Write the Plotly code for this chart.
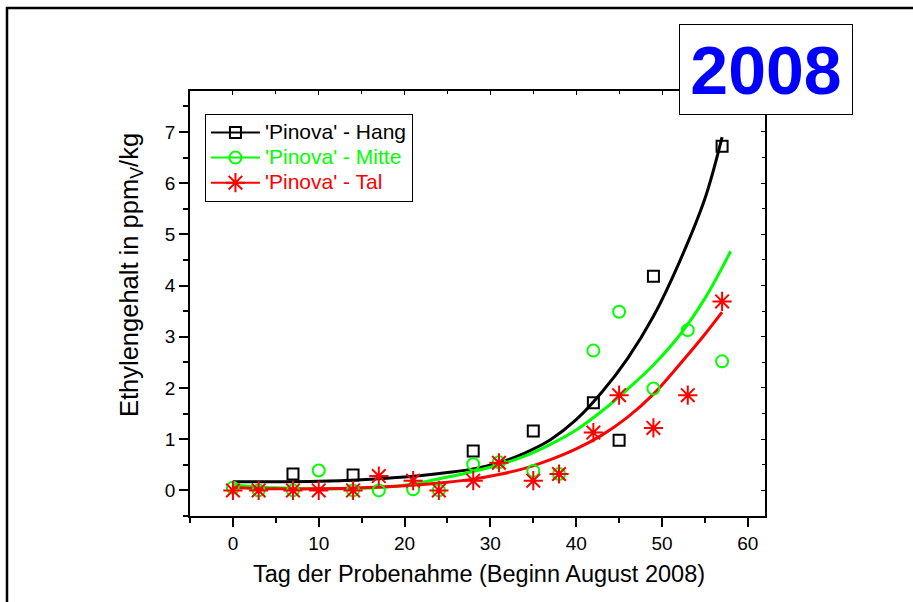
import plotly.graph_objects as go

# ---- data ----
hang_x = [7, 14, 28, 35, 42, 45, 49, 57]
hang_y = [0.32, 0.30, 0.77, 1.16, 1.71, 0.98, 4.18, 6.72]

mitte_x = [0, 3, 7, 10, 14, 17, 21, 24, 28, 31, 35, 38, 42, 45, 49, 53, 57]
mitte_y = [0.05, 0.0, 0.0, 0.39, 0.0, 0.0, 0.02, 0.0, 0.51, 0.55, 0.38, 0.32, 2.73, 3.49, 1.99, 3.13, 2.52]

tal_x = [0, 3, 7, 10, 14, 17, 21, 24, 28, 31, 35, 38, 42, 45, 49, 53, 57]
tal_y = [0.0, 0.0, 0.0, 0.0, 0.0, 0.28, 0.19, 0.0, 0.19, 0.54, 0.19, 0.32, 1.13, 1.86, 1.22, 1.86, 3.69]

# fitted curves
hang_fit_x = [0, 5, 10, 15, 20, 25, 28, 31, 34, 37, 40, 43, 46, 49, 52, 55, 57]
hang_fit_y = [0.17, 0.17, 0.18, 0.21, 0.26, 0.35, 0.42, 0.54, 0.73, 0.99, 1.38, 1.92, 2.58, 3.40, 4.45, 5.70, 6.90]
mitte_fit_x = [0, 5, 10, 15, 20, 25, 28, 31, 34, 37, 40, 43, 46, 49, 52, 55, 58]
mitte_fit_y = [0.10, 0.05, 0.03, 0.04, 0.10, 0.26, 0.37, 0.50, 0.67, 0.90, 1.18, 1.55, 1.98, 2.45, 3.02, 3.75, 4.67]
tal_fit_x = [0, 5, 10, 15, 20, 25, 28, 31, 34, 37, 40, 43, 46, 49, 52, 55, 57]
tal_fit_y = [0.05, 0.03, 0.03, 0.05, 0.09, 0.16, 0.22, 0.31, 0.43, 0.60, 0.81, 1.08, 1.43, 1.88, 2.45, 3.05, 3.48]

names = ["'Pinova' - Hang", "'Pinova' - Mitte", "'Pinova' - Tal"]
colors = ["#000000", "#00FF00", "#FF0000"]

x_title = "Tag der Probenahme (Beginn August 2008)"
y_title = "Ethylengehalt in ppm<sub>V</sub>/kg"
year_label = "2008"

FONT = "Liberation Sans, Arial, sans-serif"

fig = go.Figure()

# fit lines
for fx, fy, c in [(hang_fit_x, hang_fit_y, colors[0]),
                  (mitte_fit_x, mitte_fit_y, colors[1]),
                  (tal_fit_x, tal_fit_y, colors[2])]:
    fig.add_trace(go.Scatter(x=fx, y=fy, mode="lines",
                             line=dict(color=c, width=3, shape="spline", smoothing=1.0),
                             showlegend=False, hoverinfo="skip"))

sym = ["square-open", "circle-open", "asterisk-open"]
sizes = [11, 12, 16]
series = [(hang_x, hang_y), (mitte_x, mitte_y), (tal_x, tal_y)]
for (sx, sy), c, s, sz in zip(series, colors, sym, sizes):
    fig.add_trace(go.Scatter(x=sx, y=sy, mode="markers",
                             marker=dict(symbol=s, size=sz, color=c, line=dict(color=c, width=2)),
                             showlegend=False))

# legend entries
for n, c, s, sz in zip(names, colors, sym, sizes):
    fig.add_trace(go.Scatter(x=[None], y=[None], mode="lines+markers",
                             name=f"<span style='color:{c};font-size:21px'>{n}</span>",
                             line=dict(color=c, width=2),
                             marker=dict(symbol=s, size=sz, color=c, line=dict(color=c, width=2))))

# invisible trace for mirrored top/right axes
fig.add_trace(go.Scatter(x=[None], y=[None], xaxis="x2", yaxis="y2", showlegend=False, hoverinfo="skip"))

XR = [-5, 62]
YR = [-0.5, 7.8]

fig.update_layout(
    width=913, height=602,
    margin=dict(l=190, r=148, t=91, b=86),
    paper_bgcolor="white", plot_bgcolor="white",
    font=dict(family=FONT, color="black", size=19),
    xaxis=dict(range=XR, tick0=0, dtick=10, ticks="outside", ticklen=9, tickwidth=1.5, tickcolor="black",
               minor=dict(dtick=5, ticks="outside", ticklen=5, tickwidth=1.5, tickcolor="black"),
               showline=True, linewidth=1.5, linecolor="black", showgrid=False, zeroline=False,
               tickfont=dict(size=19), mirror=True),
    yaxis=dict(range=YR, tick0=0, dtick=1, ticks="outside", ticklen=9, tickwidth=1.5, tickcolor="black",
               minor=dict(dtick=0.5, tick0=0, ticks="outside", ticklen=5, tickwidth=1.5, tickcolor="black"),
               showline=True, linewidth=1.5, linecolor="black", showgrid=False, zeroline=False,
               tickfont=dict(size=19), mirror=True),
    xaxis2=dict(range=XR, overlaying="x", side="top", tick0=0, dtick=10, ticks="inside", ticklen=4,
                tickcolor="black", showticklabels=False, showgrid=False, zeroline=False, showline=False,
                minor=dict(dtick=5, ticks="inside", ticklen=3, tickcolor="black")),
    yaxis2=dict(range=YR, overlaying="y", side="right", tick0=0, dtick=1, ticks="inside", ticklen=4,
                tickcolor="black", showticklabels=False, showgrid=False, zeroline=False, showline=False,
                minor=dict(dtick=0.5, tick0=0, ticks="inside", ticklen=3, tickcolor="black")),
    legend=dict(x=0.026, y=0.946, xanchor="left", yanchor="top", bgcolor="white",
                bordercolor="black", borderwidth=1, font=dict(size=17, family=FONT),
                tracegroupgap=0, itemclick=False, itemwidth=49),
    showlegend=True,
)

# axis titles
fig.add_annotation(text=x_title, xref="paper", yref="paper", x=(479 - 190) / 575, y=(516 - 574) / 425,
                   xanchor="center", yanchor="middle", showarrow=False, font=dict(size=23.5, family=FONT))
fig.add_annotation(text=y_title, xref="paper", yref="paper", x=(131 - 190) / 575, y=(516 - 275) / 425,
                   xanchor="center", yanchor="middle", textangle=-90, showarrow=False,
                   font=dict(size=25.5, family=FONT))

# year box
fig.add_annotation(text=f"<b>{year_label}</b>", xref="paper", yref="paper",
                   x=(766 - 190) / 575, y=(516 - 69.5) / 425, xanchor="center", yanchor="middle",
                   showarrow=False, font=dict(size=68, family=FONT, color="#0000FF"),
                   bgcolor="white", bordercolor="black", borderwidth=1, borderpad=1,
                   width=170, height=87)

# outer frame
fig.add_shape(type="rect", xref="paper", yref="paper",
              x0=(7 - 190) / 575, x1=(1100 - 190) / 575, y0=(516 - 800) / 425, y1=(516 - 8) / 425,
              line=dict(color="black", width=2.5), fillcolor="rgba(0,0,0,0)", layer="above")

fig.write_html("out.html", config={"displayModeBar": False},
               post_script="document.body.style.margin='0';document.body.style.overflow='hidden';")
